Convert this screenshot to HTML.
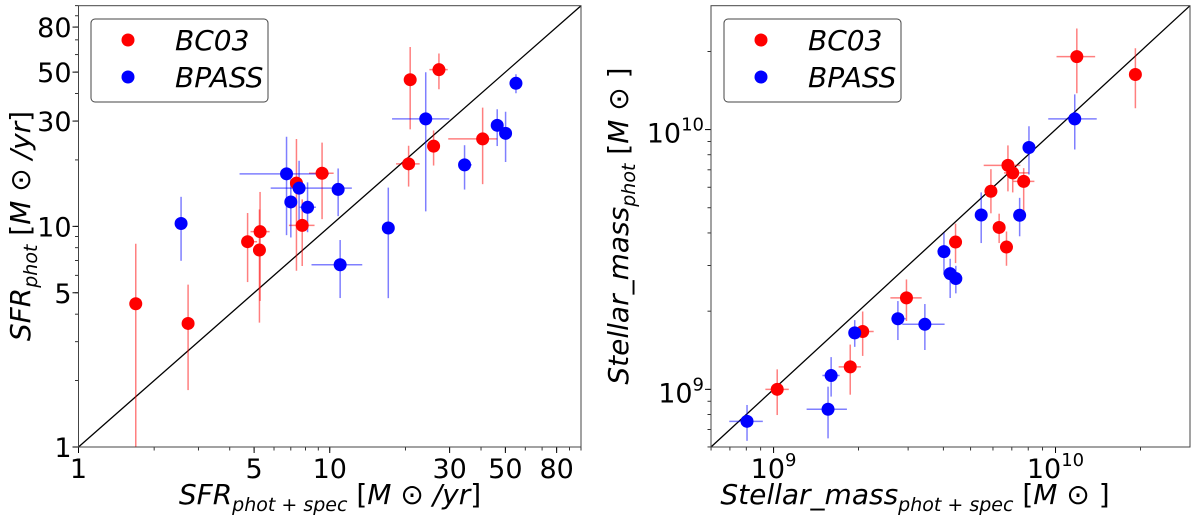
<!DOCTYPE html>
<html><head><meta charset="utf-8"><style>
body{margin:0;background:#fff}
svg{display:block;font-family:"DejaVu Sans","Liberation Sans",sans-serif}
</style></head><body>
<svg id="c" width="1200" height="516" viewBox="0 0 1200 516"></svg>
<script>
// ---- Left panel: SFR (M_sun/yr) ----
const sfrRedX=[1.69,2.73,4.71,5.28,5.25,7.37,7.77,9.32,20.6,20.9,27.2,25.9,40.6];
const sfrRedY=[4.46,3.63,8.52,9.46,7.81,15.7,10.1,17.4,19.2,46.2,51.3,23.1,24.9];
const sfrRedXErrLo=[0,0,.021,.038,0,0,.053,.052,.050,0,.038,0,.137];
const sfrRedXErrHi=[0,0,.038,.038,0,0,.049,.046,.044,0,.035,0,.058];
const sfrRedYErrHi=[.272,.176,.130,.180,.184,.200,.118,.139,.082,.148,.073,.071,.142];
const sfrRedYErrLo=[.7,.302,.183,.314,.329,.397,.184,.208,.103,.225,.089,.088,.205];
const sfrBlueX=[2.56,6.73,7.0,7.55,8.16,10.8,11.0,17.1,24.1,34.4,46.4,50.1,55.1];
const sfrBlueY=[10.3,17.3,12.9,14.9,12.2,14.7,6.7,9.83,30.7,19.0,28.7,26.4,44.5];
const sfrBlueXErrLo=[0,.187,0,.113,.032,0,.114,0,.134,.024,0,0,0];
const sfrBlueXErrHi=[0,.169,0,.210,.033,0,.088,0,.094,.029,0,0,0];
const sfrBlueYErrHi=[.121,.168,.103,.124,.113,.095,.112,.183,.211,.089,.073,.098,.041];
const sfrBlueYErrLo=[.169,.278,.161,.154,.113,.121,.151,.318,.419,.112,.094,.130,.045];
const sfrTicks=[1,5,10,30,50,80];
// ---- Right panel: stellar mass (units of 1e9 M_sun) ----
const mRedX=[1.03,1.87,2.07,2.96,4.42,5.90,6.31,6.70,6.78,7.05,7.71,11.9,19.2];
const mRedY=[1.0,1.22,1.67,2.25,3.69,5.79,4.20,3.53,7.28,6.81,6.32,19.1,16.3];
const mRedXErrLo=[.042,.041,.031,.057,0,0,0,0,.086,.031,.037,.072,0];
const mRedXErrHi=[.041,.038,.039,.054,0,0,0,0,.044,.057,.038,.065,0];
const mRedYErrHi=[.077,.086,.077,.071,.071,.085,.053,.060,.077,.028,.051,.108,.101];
const mRedYErrLo=[.099,.107,.094,.089,.081,.085,.060,.072,.100,.075,.116,.141,.130];
const mBlueX=[0.805,1.56,1.60,1.94,2.76,3.44,4.02,4.23,4.43,5.45,7.46,8.05,11.7];
const mBlueY=[0.753,0.838,1.13,1.65,1.87,1.78,3.39,2.79,2.67,4.69,4.68,8.53,11.0];
const mBlueXErrLo=[.063,.076,.031,0,.023,.080,0,0,0,0,0,0,.094];
const mBlueXErrHi=[.056,.067,.030,0,.028,.070,0,0,0,0,0,0,.078];
const mBlueYErrHi=[.063,.087,.071,.049,.068,.078,.072,.057,.049,.087,.067,.082,.094];
const mBlueYErrLo=[.075,.112,.081,.054,.082,.099,.089,.094,.057,.108,.081,.104,.118];

const NS='http://www.w3.org/2000/svg';
const svg=document.getElementById('c');
function el(tag,attrs,parent){const e=document.createElementNS(NS,tag);for(const k in attrs)e.setAttribute(k,attrs[k]);(parent||svg).appendChild(e);return e;}
const L=Math.log10;
const R=6.5;

function panel(cfg){
  const g=el('g',{});
  
  
  const sx=v=>cfg.x0+(L(v)-cfg.lmin)/(cfg.lmax-cfg.lmin)*(cfg.x1-cfg.x0);
  const sy=v=>cfg.y1-(L(v)-cfg.lmin)/(cfg.lmax-cfg.lmin)*(cfg.y1-cfg.y0);
  for(let d=Math.floor(cfg.lmin);d<=Math.ceil(cfg.lmax);d++){for(let m=1;m<10;m++){const v=m*Math.pow(10,d);const lv=L(v);if(lv<cfg.lmin-1e-9||lv>cfg.lmax+1e-9)continue;
    const px=sx(v),py=sy(v);
    el('line',{x1:px,x2:px,y1:cfg.y1,y2:cfg.y1+3.5,stroke:'#000','stroke-width':0.8},g);
    el('line',{x1:cfg.x0,x2:cfg.x0-3.5,y1:py,y2:py,stroke:'#000','stroke-width':0.8},g);}}
  cfg.ticks.forEach(t=>{const px=sx(t),py=sy(t);
    el('line',{x1:px,x2:px,y1:cfg.y1,y2:cfg.y1+6,stroke:'#000','stroke-width':1},g);
    el('line',{x1:cfg.x0,x2:cfg.x0-6,y1:py,y2:py,stroke:'#000','stroke-width':1},g);
    const tx=el('text',{x:px,y:cfg.y1+31,'text-anchor':'middle','font-size':27},g);
    
    
    const ty=el('text',{x:cfg.x0-7,y:py+(cfg.tickDy||10),'text-anchor':'end','font-size':27},g);
    
    
    if(cfg.pow){[tx,ty].forEach(e=>{e.textContent='10';const s=el('tspan',{dy:-12,'font-size':18},e);s.textContent=String(Math.round(L(t))+9);});}
    else{tx.textContent=t;ty.textContent=t;}
  });
  const dl=el('line',{x1:sx(Math.pow(10,cfg.lmin)),y1:sy(Math.pow(10,cfg.lmin)),x2:sx(Math.pow(10,cfg.lmax)),y2:sy(Math.pow(10,cfg.lmax)),stroke:'#000','stroke-width':1.3},g);
  
  
  const clip=el('clipPath',{id:cfg.name+'-clip'},g);
  el('rect',{x:cfg.x0,y:cfg.y0,width:cfg.x1-cfg.x0,height:cfg.y1-cfg.y0},clip);
  const pg=el('g',{'clip-path':'url(#'+cfg.name+'-clip)'},g);
  cfg.series.forEach(s=>{
    s.x.forEach((xv,i)=>{const yv=s.y[i];const px=sx(xv),py=sy(yv);
      const eg=el('g',{stroke:s.color,'stroke-opacity':0.5,'stroke-width':1.5},pg);
      
      
      el('line',{x1:px,x2:px,y1:sy(yv*Math.pow(10,s.yhi[i])),y2:sy(yv/Math.pow(10,s.ylo[i]))},eg);
      if(s.xlo[i]||s.xhi[i])el('line',{x1:sx(xv/Math.pow(10,s.xlo[i])),x2:sx(xv*Math.pow(10,s.xhi[i])),y1:py,y2:py},eg);
    });
  });
  cfg.series.forEach(s=>{
    s.x.forEach((xv,i)=>{const c=el('circle',{cx:sx(xv),cy:sy(s.y[i]),r:R,fill:s.color},pg);
      
      });
  });
  const fr=el('rect',{x:cfg.x0,y:cfg.y0,width:cfg.x1-cfg.x0,height:cfg.y1-cfg.y0,fill:'none',stroke:'#444','stroke-width':1},g);
  
  
  const lg=el('g',{},g);
  
  
  el('rect',{x:cfg.lx,y:19,width:177,height:83,rx:4,fill:'#fff',stroke:'#444','stroke-width':1},lg);
  [['BC03','red',40],['BPASS','blue',77]].forEach(([t,c,y])=>{
    const e=el('g',{},lg);
    
    
    el('circle',{cx:cfg.lx+37,cy:y,r:R,fill:c},e);
    const tt=el('text',{x:cfg.lx+84,y:y+10,'font-size':28,'font-style':'italic'},e);tt.textContent=t;
  });
  return g;
}

panel({name:'sfr-panel',x0:78.5,x1:581,y0:5.7,y1:447,lmin:0,lmax:2,ticks:sfrTicks,lx:91,
  series:[
   {key:'bc03',color:'#ff0000',x:sfrRedX,y:sfrRedY,xlo:sfrRedXErrLo,xhi:sfrRedXErrHi,ylo:sfrRedYErrLo,yhi:sfrRedYErrHi},
   {key:'bpass',color:'#0000ff',x:sfrBlueX,y:sfrBlueY,xlo:sfrBlueXErrLo,xhi:sfrBlueXErrHi,ylo:sfrBlueYErrLo,yhi:sfrBlueYErrHi}]});
panel({name:'mass-panel',x0:711,x1:1190,y0:5.7,y1:447,lmin:-0.222,lmax:1.477,ticks:[1,10],pow:true,lx:724,tickDy:13,
  series:[
   {key:'bc03',color:'#ff0000',x:mRedX,y:mRedY,xlo:mRedXErrLo,xhi:mRedXErrHi,ylo:mRedYErrLo,yhi:mRedYErrHi},
   {key:'bpass',color:'#0000ff',x:mBlueX,y:mBlueY,xlo:mBlueXErrLo,xhi:mBlueXErrHi,ylo:mBlueYErrLo,yhi:mBlueYErrHi}]});

function title(name,x,y,rot,html){
  const t=el('text',{x:x,y:y,'text-anchor':'middle','font-size':28,'font-style':'italic',transform:rot?`rotate(-90 ${x} ${y})`:''});
  
  
  t.innerHTML=html;
}
title('x-axis-title-sfr',330,504,false,'SFR<tspan dy="7" font-size="19">phot + spec</tspan><tspan dy="-7" font-style="normal"> [</tspan>M <tspan font-style="normal">⊙</tspan> /yr<tspan font-style="normal">]</tspan>');
title('y-axis-title-sfr',30,226,true,'SFR<tspan dy="7" font-size="19">phot</tspan><tspan dy="-7" font-style="normal"> [</tspan>M <tspan font-style="normal">⊙</tspan> /yr<tspan font-style="normal">]</tspan>');
title('x-axis-title-mass',915,504,false,'Stellar_mass<tspan dy="7" font-size="19">phot + spec</tspan><tspan dy="-7" font-style="normal"> [</tspan>M <tspan font-style="normal">⊙</tspan> <tspan font-style="normal">]</tspan>');
title('y-axis-title-mass',628,226,true,'Stellar_mass<tspan dy="7" font-size="19">phot</tspan><tspan dy="-7" font-style="normal"> [</tspan>M <tspan font-style="normal">⊙</tspan> <tspan font-style="normal">]</tspan>');
</script>
</body></html>
